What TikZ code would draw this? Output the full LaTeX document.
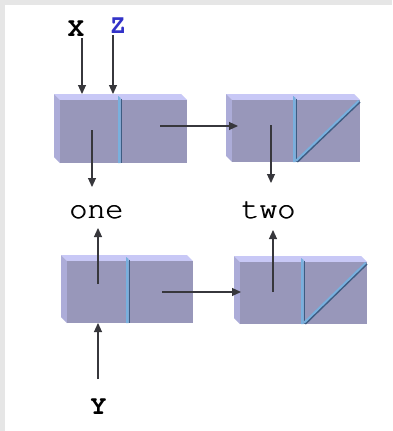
\documentclass[tikz,border=0pt]{standalone}
\usepackage[T1]{fontenc}
\usepackage{fontspec}
\usetikzlibrary{arrows.meta}
\newcommand\courfont{\fontencoding{T1}\fontfamily{pcr}\selectfont}
\newcommand\thick[1]{\rlap{#1}\hspace{0.7pt}#1}
\definecolor{bgc}{RGB}{230,230,230}
\definecolor{frontc}{RGB}{152,151,186}
\definecolor{topc}{RGB}{200,200,246}
\definecolor{sidec}{RGB}{172,172,216}
\definecolor{divlight}{RGB}{120,176,222}
\definecolor{divdark}{RGB}{62,92,130}
\definecolor{arrc}{RGB}{55,55,60}
\definecolor{zblue}{RGB}{50,50,200}
\tikzset{
  frontface/.style={fill=frontc,draw=none,inner sep=0pt,outer sep=0pt,rectangle},
  arr/.style={draw=arrc,line width=1.1pt,-{Triangle[length=9pt,width=8pt]}},
  lab/.style={font=\courfont\bfseries\fontsize{27}{27}\selectfont,inner sep=0pt},
  word/.style={font=\courfont\fontsize{30}{30}\selectfont,inner sep=0pt,anchor=base},
}
\newcommand\drawblock[6]{%
  \fill[topc] (#2-6,#4-6) -- (#3-6,#4-6) -- (#3,#4) -- (#2,#4) -- cycle;
  \fill[sidec] (#2-6,#4-6) -- (#2,#4) -- (#2,#5) -- (#2-6,#5-6) -- cycle;
  \node[frontface,minimum width={#3-#2},minimum height={#5-#4}] (#1) at ({(#2+#3)/2},{(#4+#5)/2}) {};
  \fill[divlight] (#6-1.8,#4-4) -- (#6+0.6,#4-2) -- (#6+0.6,#5) -- (#6-1.8,#5) -- cycle;
  \draw[divdark,line width=1.1pt] (#6+1.1,#4-1.5) -- (#6+1.1,#5);
}
\newcommand\drawdiag[4]{% div, x1, yt, yb
  \draw[divdark,line width=3pt] (#1+1.8,#4-0.5) -- (#2-0.5,#3+1.5);
  \draw[divlight,line width=2pt] (#1+1,#4-1.2) -- (#2-1.2,#3+0.8);
}
\begin{document}
\begin{tikzpicture}[x=1pt,y=-1pt]
\useasboundingbox (0,0) rectangle (392,431);
\fill[bgc] (0,0) rectangle (392,431);
\fill[white] (5,5) rectangle (392,431);

\drawblock{b1}{60}{187}{100}{163}{120}
\drawblock{b2}{232}{360}{100}{162}{295}
\drawdiag{295}{360}{100}{162}
\drawblock{b3}{67}{193}{261}{323}{128}
\drawblock{b4}{240}{367}{262}{324}{303}
\drawdiag{303}{367}{262}{324}

\node[lab] (X) at (76,29) {X};
\node[lab,text=zblue] (Z) at (118,26) {Z};
\node[lab] (Y) at (98.5,407) {Y};
\node[word] (one) at (96.5,218) {\thick{one}};
\node[word] (two) at (268.5,218) {\thick{two}};

\coordinate (xs) at (82,38);  \coordinate (xe) at (82,94);
\coordinate (zs) at (113,35); \coordinate (ze) at (113,94);
\coordinate (d1s) at (92,130); \coordinate (d1e) at (92,187);
\coordinate (d2s) at (271,125); \coordinate (d2e) at (271,183);
\coordinate (r1s) at (160,126); \coordinate (r1e) at (238,126);
\coordinate (r2s) at (162,292); \coordinate (r2e) at (241,292);
\coordinate (u3s) at (98,284); \coordinate (u3e) at (98,228);
\coordinate (u4s) at (273,292); \coordinate (u4e) at (273,230);
\coordinate (ys) at (98,379); \coordinate (ye) at (98,323);

\draw[arr] (xs) -- (xe);
\draw[arr] (zs) -- (ze);
\draw[arr] (d1s) -- (d1e);
\draw[arr] (d2s) -- (d2e);
\draw[arr] (r1s) -- (r1e);
\draw[arr] (r2s) -- (r2e);
\draw[arr] (u3s) -- (u3e);
\draw[arr] (u4s) -- (u4e);
\draw[arr] (ys) -- (ye);
\end{tikzpicture}
\end{document}
